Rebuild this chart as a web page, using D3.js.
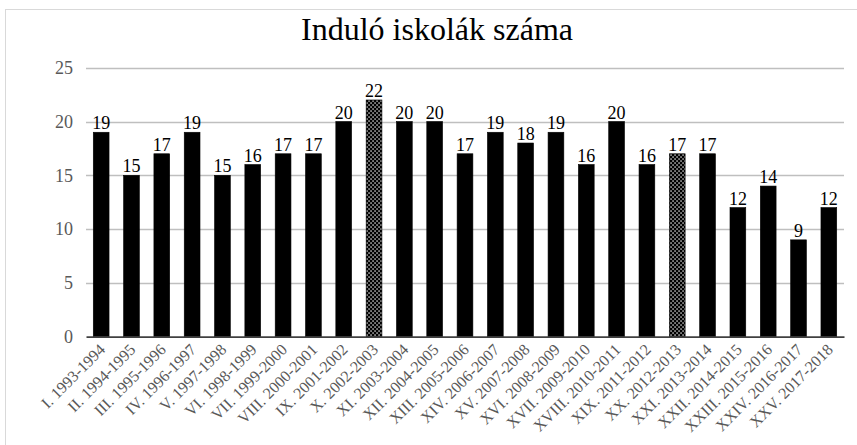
<!DOCTYPE html>
<html>
<head>
<meta charset="utf-8">
<script src="https://cdn.jsdelivr.net/npm/d3@7"></script>
<style>
  body { margin: 0; background: #fff; }
</style>
</head>
<body>
<div id="chart"></div>
<script>
// data
const categories = ['I. 1993-1994', 'II. 1994-1995', 'III. 1995-1996', 'IV. 1996-1997', 'V. 1997-1998',
  'VI. 1998-1999', 'VII. 1999-2000', 'VIII. 2000-2001', 'IX. 2001-2002', 'X. 2002-2003',
  'XI. 2003-2004', 'XII. 2004-2005', 'XIII. 2005-2006', 'XIV. 2006-2007', 'XV. 2007-2008',
  'XVI. 2008-2009', 'XVII. 2009-2010', 'XVIII. 2010-2011', 'XIX. 2011-2012', 'XX. 2012-2013',
  'XXI. 2013-2014', 'XXII. 2014-2015', 'XXIII. 2015-2016', 'XXIV. 2016-2017', 'XXV. 2017-2018']
const values = [19, 15, 17, 19, 15, 16, 17, 17, 20, 22, 20, 20, 17, 19, 18, 19, 16, 20, 16, 17, 17, 12, 14, 9, 12]
const highlighted = ['X. 2002-2003', 'XX. 2012-2013']
const yTicks = [0, 5, 10, 15, 20, 25]
const title = 'Induló iskolák száma'

const width = 857, height = 445
const margin = {top: 67.7, right: 13, bottom: 108.3, left: 86}
const serif = '"Liberation Serif", "Times New Roman", serif'

const svg = d3.select('#chart').append('svg')
  .attr('width', width)
  .attr('height', height)
  .attr('font-family', serif)

// dotted fill for the highlighted years
const defs = svg.append('defs')
const pat = defs.append('pattern')
  .attr('id', 'dots')
  .attr('patternUnits', 'userSpaceOnUse')
  .attr('width', 4)
  .attr('height', 4)
pat.append('rect').attr('width', 4).attr('height', 4).attr('fill', '#000')
pat.append('rect').attr('x', 0.4).attr('y', 0.4).attr('width', 1.3).attr('height', 1.3).attr('fill', '#fff')
pat.append('rect').attr('x', 2.4).attr('y', 2.4).attr('width', 1.3).attr('height', 1.3).attr('fill', '#fff')

// chart frame
svg.append('rect')
  .attr('x', 5.5).attr('y', 9.5)
  .attr('width', 900).attr('height', 500)
  .attr('fill', 'none')
  .attr('stroke', '#d9d9d9')

svg.append('text')
  .attr('x', 437)
  .attr('y', 40)
  .attr('text-anchor', 'middle')
  .attr('font-family', serif)
  .attr('font-size', 32)
  .attr('fill', '#000')
  .text(title)

const x = d3.scaleBand()
  .domain(categories)
  .range([margin.left, width - margin.right])
  .paddingInner(0.48)
  .paddingOuter(0.24)

const y = d3.scaleLinear()
  .domain([0, 25])
  .range([height - margin.bottom, margin.top])

// gridlines
svg.append('g')
  .selectAll('line')
  .data(yTicks.filter(d => d > 0))
  .join('line')
  .attr('x1', margin.left)
  .attr('x2', width - margin.right)
  .attr('y1', d => Math.round(y(d)) + 0.5)
  .attr('y2', d => Math.round(y(d)) + 0.5)
  .attr('stroke', '#bfbfbf')
  .attr('stroke-width', 1.3)

// y axis labels
const yAxis = svg.append('g')
  .attr('transform', `translate(${margin.left},0)`)
  .call(d3.axisLeft(y).tickValues(yTicks).tickSize(0).tickPadding(13))
yAxis.attr('font-family', serif)
yAxis.select('.domain').remove()
yAxis.selectAll('text')
  .attr('font-size', 18)
  .attr('fill', '#595959')

// bars
svg.append('g')
  .selectAll('rect')
  .data(values)
  .join('rect')
  .attr('x', (d, i) => x(categories[i]))
  .attr('y', d => y(d))
  .attr('width', x.bandwidth())
  .attr('height', d => y(0) - y(d))
  .attr('fill', (d, i) => highlighted.includes(categories[i]) ? 'url(#dots)' : '#000')
  .attr('stroke', '#000')
  .attr('stroke-width', 0.6)

// value labels
svg.append('g')
  .selectAll('text')
  .data(values)
  .join('text')
  .attr('x', (d, i) => x(categories[i]) + x.bandwidth() / 2)
  .attr('y', d => y(d) - 3)
  .attr('text-anchor', 'middle')
  .attr('font-family', serif)
  .attr('font-size', 18)
  .attr('fill', '#000')
  .text(d => d)

// x axis
const xAxis = svg.append('g')
  .attr('transform', `translate(0,${y(0)})`)
  .call(d3.axisBottom(x).tickSize(0).tickPadding(0))
xAxis.attr('font-family', serif)
xAxis.select('.domain')
  .attr('stroke', '#404040')
  .attr('stroke-width', 1.8)
xAxis.selectAll('text')
  .attr('font-size', 16)
  .attr('fill', '#595959')
  .attr('text-anchor', 'end')
  .attr('dy', 0)
  .attr('transform', 'translate(5,14) rotate(-45)')
</script>
</body>
</html>
